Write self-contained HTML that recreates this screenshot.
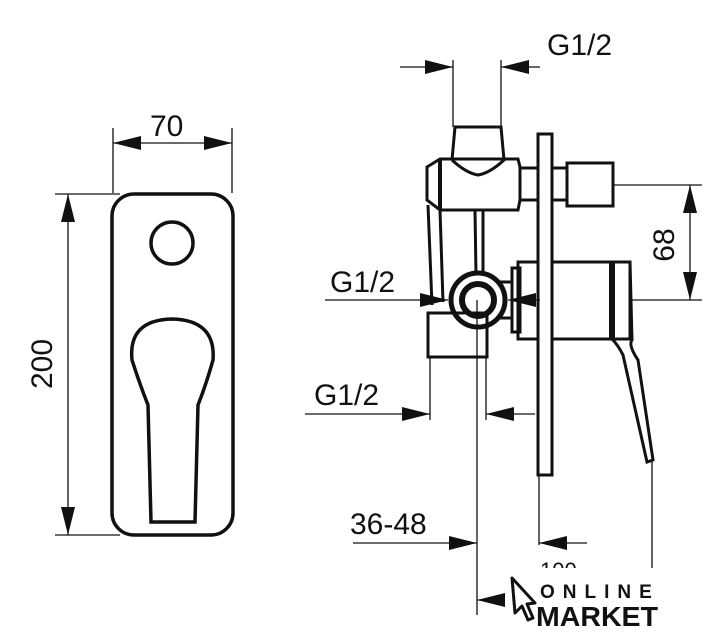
<!DOCTYPE html>
<html><head><style>body{margin:0;background:#fff}svg{display:block}</style></head><body>
<svg width="722" height="640" viewBox="0 0 722 640" xmlns="http://www.w3.org/2000/svg" font-family="Liberation Sans, sans-serif">
<defs>
<marker id="b" viewBox="0 0 10 10" refX="10" refY="5" markerWidth="28" markerHeight="14" markerUnits="userSpaceOnUse" orient="auto-start-reverse" preserveAspectRatio="none"><path d="M0,0 L10,5 L0,10z" fill="#111"/></marker>
</defs>
<g stroke="#111" fill="none">
<rect x="112" y="194" width="121" height="341" rx="22" stroke-width="3.5"/>
<circle cx="172" cy="243" r="21" stroke-width="3.5"/>
<path d="M151,522 L148,405 Q140,385 132,360 Q128,320 172,319 Q216,320 213,360 Q206,385 198,405 L195,522 Z" stroke-width="3.5"/>
<g stroke-width="1.3">
<line x1="113" y1="128" x2="113" y2="193"/><line x1="232" y1="128" x2="232" y2="193"/>
<line x1="113" y1="143" x2="232" y2="143" marker-start="url(#b)" marker-end="url(#b)"/>
<line x1="55" y1="194" x2="120" y2="194"/><line x1="55" y1="535" x2="120" y2="535"/>
<line x1="68" y1="194" x2="68" y2="535" marker-start="url(#b)" marker-end="url(#b)"/>
</g>
<g stroke-width="3">
<rect x="538" y="134" width="14" height="341"/>
<path d="M452,160 L455,127 L501,127 L504,160 Q490,173 478,175 Q466,173 452,160"/>
<path d="M427,167 L440,159 L518,159 L520,167 L520,200 L518,210 L440,210 L427,200 Z"/>
<line x1="440" y1="159" x2="440" y2="210" stroke-width="4"/>
<rect x="520" y="168" width="18" height="32"/>
<rect x="552" y="168" width="15" height="32"/>
<rect x="567" y="163" width="46" height="43"/>
<path d="M428,205 L432,305 M440,210 L443,302"/>
<path d="M475,210 L476,275 M483,210 L483,275"/>
<rect x="428" y="313" width="59" height="44"/>
<circle cx="478" cy="300" r="27" stroke-width="5"/>
<circle cx="478" cy="300" r="16" stroke-width="6"/>
<rect x="512" y="268" width="8" height="64"/>
<rect x="518" y="262" width="20" height="77"/>
<rect x="552" y="262" width="78" height="77"/>
<line x1="612" y1="262" x2="612" y2="339" stroke-width="6"/>
<path d="M612,262 L630,262 L632,340 Q628,345 638,360 L653,460 L647,462 L623,355 Q618,345 612,339"/>
<path d="M497,282 L512,282 M497,318 L512,318"/>
</g>
<g stroke-width="1.3">
<line x1="453" y1="60" x2="453" y2="127"/><line x1="501" y1="60" x2="501" y2="127"/>
<line x1="400" y1="67" x2="453" y2="67" marker-end="url(#b)"/>
<line x1="540" y1="67" x2="501" y2="67" marker-end="url(#b)"/>
<line x1="613" y1="185" x2="702" y2="185"/><line x1="630" y1="300" x2="702" y2="300"/>
<line x1="690" y1="185" x2="690" y2="300" marker-start="url(#b)" marker-end="url(#b)"/>
<line x1="325" y1="300" x2="448" y2="300" marker-end="url(#b)"/>
<line x1="540" y1="300" x2="508" y2="300" marker-end="url(#b)"/>
<line x1="430" y1="357" x2="430" y2="420"/><line x1="486" y1="357" x2="486" y2="420"/>
<line x1="305" y1="414" x2="430" y2="414" marker-end="url(#b)"/>
<line x1="535" y1="414" x2="486" y2="414" marker-end="url(#b)"/>
<line x1="477" y1="300" x2="477" y2="615"/>
<line x1="539" y1="475" x2="539" y2="545"/>
<line x1="652" y1="462" x2="652" y2="570"/>
<line x1="353" y1="543" x2="477" y2="543" marker-end="url(#b)"/>
<line x1="587" y1="543" x2="539" y2="543" marker-end="url(#b)"/>
<line x1="500" y1="600" x2="477" y2="600" marker-end="url(#b)"/>
</g>
</g>
<g font-size="30" fill="#111">
<text x="150" y="136">70</text>
<text x="547" y="55">G1/2</text>
<text x="330" y="292">G1/2</text>
<text x="314" y="405">G1/2</text>
<text x="350" y="534">36-48</text>
<text transform="translate(52,364) rotate(-90)" text-anchor="middle">200</text>
<text transform="translate(674,245) rotate(-90)" text-anchor="middle">68</text>
<text x="540" y="578" font-size="22">100</text>
</g>
<rect x="508" y="568" width="200" height="62" fill="#fff"/>
<path d="M512,578 L535,603 L527,604 L533,618 L528,620 L522,606 L515,613 Z" fill="#fff" stroke="#111" stroke-width="3" stroke-linejoin="round"/>
<text x="540" y="598" font-size="19" font-weight="bold" fill="#111" letter-spacing="8">ONLINE</text>
<text x="536" y="626" font-size="28" font-weight="bold" fill="#111" textLength="122" lengthAdjust="spacingAndGlyphs">MARKET</text>
</svg>
</body></html>
